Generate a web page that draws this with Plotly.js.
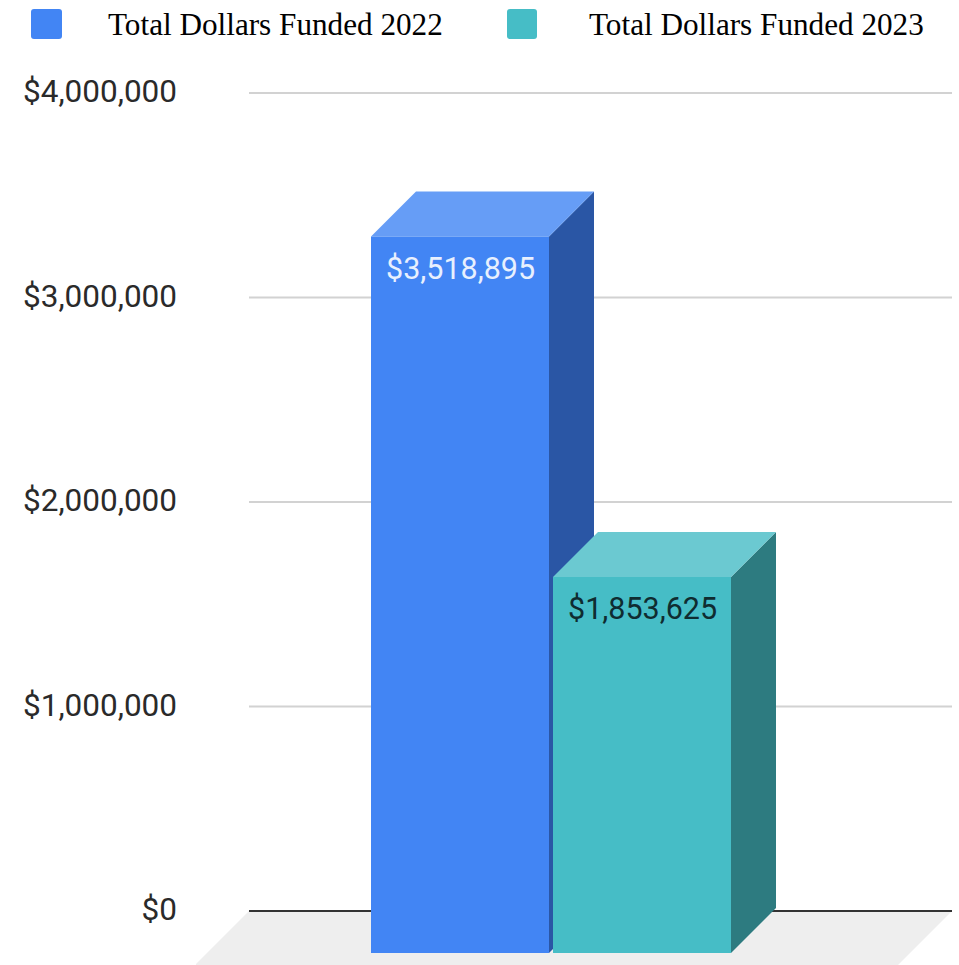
<!DOCTYPE html>
<html>
<head>
<meta charset="utf-8">
<script src="https://cdn.plot.ly/plotly-3.0.1.min.js"></script>
<style>html,body{margin:0;padding:0;background:#fff}#chart{width:959px;height:965px}</style>
</head>
<body>
<div id="chart"></div>
<script>
// Data
const seriesNames = ["Total Dollars Funded 2022", "Total Dollars Funded 2023"];
const seriesValues = [3518895, 1853625];
const valueLabels = ["$3,518,895", "$1,853,625"];
const tickValues = [0, 1000000, 2000000, 3000000, 4000000];
const tickLabels = ["$0", "$1,000,000", "$2,000,000", "$3,000,000", "$4,000,000"];

// Styles
const frontColors = ["#4285f4", "#46bdc6"];
const topColors = ["#669df6", "#6bc9d1"];
const sideColors = ["#2a56a5", "#2d7b80"];
const labelColors = ["#e8f0fe", "#0f2c30"];

// Layout geometry
const W = 959, H = 965;
const plotL = 196, plotR = 954, plotT = 60, plotB = 965;
const zeroPx = 911, pxPerUnit = 204.5e-6;
const unitPx = 182, firstCenterPx = 460;
const barW = 178 / unitPx;
const depthX = 45 / unitPx, depthY = 45 / pxPerUnit;
const frontBase = -42 / pxPerUnit;
const gridStart = (249 - firstCenterPx) / unitPx, gridEnd = (952 - firstCenterPx) / unitPx;
const floorY = -(plotB - zeroPx) / pxPerUnit;
const floorRun = (plotB - zeroPx) / unitPx;

const traces = [];
function face(xs, ys, color, name) {
  traces.push({
    type: "scatter", mode: "lines", x: xs, y: ys, fill: "toself", fillcolor: color,
    line: {width: 0, color: color}, hoverinfo: "skip", showlegend: false, name: name
  });
}
seriesValues.forEach((v, i) => {
  const l = i - barW / 2, r = i + barW / 2, t = v - depthY;
  face([r, r + depthX, r + depthX, r, r], [frontBase, frontBase + depthY, v, t, frontBase], sideColors[i], seriesNames[i]);
  face([l, l + depthX, r + depthX, r, l], [t, v, v, t, t], topColors[i], seriesNames[i]);
  face([l, r, r, l, l], [frontBase, frontBase, t, t, frontBase], frontColors[i], seriesNames[i]);
});

const shapes = [{
  type: "path", xref: "x", yref: "y", layer: "below", line: {width: 0}, fillcolor: "#eeeeee",
  path: `M ${gridStart} 0 L ${gridEnd} 0 L ${gridEnd - floorRun} ${floorY} L ${gridStart - floorRun} ${floorY} Z`
}];
tickValues.forEach(t => shapes.push({
  type: "line", xref: "x", yref: "y", layer: "below", x0: gridStart, x1: gridEnd, y0: t, y1: t,
  line: {color: t === 0 ? "#333333" : "#d2d2d2", width: 2}
}));

const swatchX = [[31, 62], [507, 537]];
const legendTextX = [106, 587];
const px = x => (x - plotL) / (plotR - plotL);
const py = y => (plotB - y) / (plotB - plotT);
swatchX.forEach((s, i) => {
  const a = s[0], b = s[1], t = 9, u = 39, c = 3;
  shapes.push({
    type: "path", xref: "paper", yref: "paper", layer: "above",
    path: `M ${px(a + c)} ${py(t)} L ${px(b - c)} ${py(t)} Q ${px(b)} ${py(t)} ${px(b)} ${py(t + c)} ` +
          `L ${px(b)} ${py(u - c)} Q ${px(b)} ${py(u)} ${px(b - c)} ${py(u)} L ${px(a + c)} ${py(u)} ` +
          `Q ${px(a)} ${py(u)} ${px(a)} ${py(u - c)} L ${px(a)} ${py(t + c)} Q ${px(a)} ${py(t)} ${px(a + c)} ${py(t)} Z`,
    fillcolor: frontColors[i], line: {width: 0}
  });
});

const annotations = [];
seriesNames.forEach((n, i) => annotations.push({
  xref: "paper", yref: "paper", xanchor: "left", yanchor: "middle", showarrow: false,
  x: px(legendTextX[i]), y: py(25),
  text: n, font: {family: "Liberation Serif", size: 31.2, color: "#000000"}
}));
seriesValues.forEach((v, i) => annotations.push({
  xref: "x", yref: "y", xanchor: "center", yanchor: "middle", showarrow: false,
  x: i, y: v - depthY - 32 / pxPerUnit,
  text: valueLabels[i], font: {family: "Roboto", size: 30.5, color: labelColors[i]}
}));

Plotly.newPlot("chart", traces, {
  width: W, height: H,
  margin: {l: plotL, r: W - plotR, t: plotT, b: H - plotB, pad: 0},
  paper_bgcolor: "#ffffff", plot_bgcolor: "#ffffff",
  showlegend: false,
  xaxis: {
    range: [(plotL - firstCenterPx) / unitPx, (plotR - firstCenterPx) / unitPx],
    visible: false, fixedrange: true
  },
  yaxis: {
    range: [-(plotB - zeroPx) / pxPerUnit, (zeroPx - plotT) / pxPerUnit],
    tickmode: "array", tickvals: tickValues, ticktext: tickLabels,
    showgrid: false, zeroline: false, showline: false, ticks: "",
    ticklabelstandoff: 18, ticklabelshift: -2, fixedrange: true,
    tickfont: {family: "Roboto", size: 31.5, color: "#2a2a2a"}
  },
  shapes: shapes,
  annotations: annotations
}, {displayModeBar: false, responsive: false});
</script>
</body>
</html>
